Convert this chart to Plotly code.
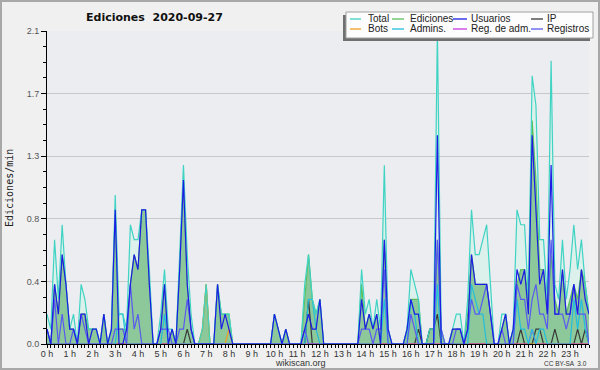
import plotly.graph_objects as go

# 10-minute bins, 144 per day; values in edits/min
hours = [f"{h} h" for h in range(24)]

total = [
    0.2, 0.1, 0.7, 0.3, 0.8, 0.4,   # 0h
    0.1, 0.2, 0.0, 0.4, 0.3, 0.1,   # 1h
    0.1, 0.1, 0.0, 0.2, 0.0, 0.1,   # 2h
    1.0, 0.2, 0.2, 0.1, 0.8, 0.7,   # 3h
    0.7, 0.9, 0.9, 0.5, 0.0, 0.0,   # 4h
    0.2, 0.5, 0.1, 0.1, 0.0, 0.6,   # 5h
    1.2, 0.6, 0.2, 0.0, 0.0, 0.1,   # 6h
    0.4, 0.0, 0.0, 0.4, 0.2, 0.2,   # 7h
    0.2, 0.0, 0.0, 0.0, 0.0, 0.0,   # 8h
    0.0, 0.0, 0.0, 0.0, 0.0, 0.0,   # 9h
    0.2, 0.1, 0.0, 0.1, 0.0, 0.0,   # 10h
    0.0, 0.0, 0.4, 0.6, 0.3, 0.2,   # 11h
    0.3, 0.0, 0.0, 0.0, 0.0, 0.0,   # 12h
    0.0, 0.0, 0.0, 0.0, 0.0, 0.5,   # 13h
    0.2, 0.3, 0.1, 0.3, 0.1, 1.2,   # 14h
    0.1, 0.0, 0.0, 0.0, 0.0, 0.1,   # 15h
    0.5, 0.4, 0.3, 0.0, 0.0, 0.1,   # 16h
    0.1, 2.1, 0.1, 0.0, 0.0, 0.1,   # 17h
    0.2, 0.2, 0.0, 0.3, 0.9, 0.6,   # 18h
    0.6, 0.7, 0.8, 0.4, 0.0, 0.0,   # 19h
    0.2, 0.2, 0.0, 0.1, 0.9, 0.8,   # 20h
    0.8, 0.3, 1.8, 1.6, 0.7, 0.7,   # 21h
    0.3, 1.9, 0.4, 0.3, 0.7, 0.3,   # 22h
    0.5, 0.8, 0.5, 0.7, 0.4, 0.2,   # 23h
]

ediciones = [
    0.1, 0.0, 0.4, 0.2, 0.6, 0.4,
    0.1, 0.1, 0.0, 0.2, 0.2, 0.1,
    0.1, 0.1, 0.0, 0.2, 0.0, 0.1,
    0.9, 0.1, 0.1, 0.1, 0.4, 0.6,
    0.5, 0.9, 0.9, 0.4, 0.0, 0.0,
    0.1, 0.4, 0.0, 0.1, 0.0, 0.5,
    1.1, 0.4, 0.1, 0.0, 0.0, 0.1,
    0.4, 0.0, 0.0, 0.4, 0.2, 0.2,
    0.2, 0.0, 0.0, 0.0, 0.0, 0.0,
    0.0, 0.0, 0.0, 0.0, 0.0, 0.0,
    0.2, 0.1, 0.0, 0.1, 0.0, 0.0,
    0.0, 0.0, 0.3, 0.6, 0.3, 0.2,
    0.3, 0.0, 0.0, 0.0, 0.0, 0.0,
    0.0, 0.0, 0.0, 0.0, 0.0, 0.4,
    0.1, 0.2, 0.1, 0.2, 0.0, 0.7,
    0.1, 0.0, 0.0, 0.0, 0.0, 0.1,
    0.3, 0.3, 0.3, 0.0, 0.0, 0.1,
    0.1, 0.7, 0.1, 0.0, 0.0, 0.1,
    0.1, 0.1, 0.0, 0.2, 0.6, 0.4,
    0.4, 0.4, 0.4, 0.2, 0.0, 0.0,
    0.1, 0.2, 0.0, 0.1, 0.4, 0.5,
    0.5, 0.3, 1.5, 1.1, 0.5, 0.5,
    0.2, 0.6, 0.3, 0.2, 0.5, 0.2,
    0.3, 0.4, 0.3, 0.5, 0.4, 0.2,
]

usuarios = [
    0.1, 0.0, 0.4, 0.2, 0.6, 0.4,
    0.1, 0.1, 0.0, 0.2, 0.2, 0.0,
    0.1, 0.1, 0.0, 0.2, 0.0, 0.1,
    0.9, 0.0, 0.0, 0.1, 0.4, 0.6,
    0.5, 0.9, 0.9, 0.4, 0.0, 0.0,
    0.1, 0.4, 0.0, 0.1, 0.0, 0.5,
    1.1, 0.4, 0.1, 0.0, 0.0, 0.0,
    0.0, 0.0, 0.0, 0.4, 0.1, 0.2,
    0.1, 0.0, 0.0, 0.0, 0.0, 0.0,
    0.0, 0.0, 0.0, 0.0, 0.0, 0.0,
    0.2, 0.1, 0.0, 0.1, 0.0, 0.0,
    0.0, 0.0, 0.1, 0.2, 0.1, 0.1,
    0.3, 0.0, 0.0, 0.0, 0.0, 0.0,
    0.0, 0.0, 0.0, 0.0, 0.0, 0.3,
    0.1, 0.2, 0.1, 0.2, 0.0, 0.7,
    0.1, 0.0, 0.0, 0.0, 0.0, 0.1,
    0.3, 0.2, 0.2, 0.0, 0.0, 0.0,
    0.0, 1.4, 0.0, 0.0, 0.0, 0.1,
    0.1, 0.1, 0.0, 0.1, 0.6, 0.4,
    0.4, 0.4, 0.4, 0.2, 0.0, 0.0,
    0.1, 0.2, 0.0, 0.1, 0.5, 0.4,
    0.5, 0.2, 1.4, 0.9, 0.4, 0.5,
    0.2, 1.2, 0.2, 0.2, 0.5, 0.2,
    0.2, 0.4, 0.2, 0.5, 0.3, 0.2,
]

registros = [
    0.1, 0.0, 0.3, 0.0, 0.2, 0.0,
    0.0, 0.1, 0.0, 0.2, 0.1, 0.0,
    0.0, 0.0, 0.0, 0.0, 0.0, 0.0,
    0.1, 0.1, 0.1, 0.0, 0.4, 0.1,
    0.2, 0.0, 0.0, 0.0, 0.0, 0.0,
    0.1, 0.1, 0.1, 0.0, 0.0, 0.1,
    0.1, 0.3, 0.1, 0.0, 0.0, 0.0,
    0.0, 0.0, 0.0, 0.0, 0.0, 0.0,
    0.0, 0.0, 0.0, 0.0, 0.0, 0.0,
    0.0, 0.0, 0.0, 0.0, 0.0, 0.0,
    0.0, 0.0, 0.0, 0.0, 0.0, 0.0,
    0.0, 0.0, 0.1, 0.0, 0.0, 0.0,
    0.0, 0.0, 0.0, 0.0, 0.0, 0.0,
    0.0, 0.0, 0.0, 0.0, 0.0, 0.1,
    0.1, 0.1, 0.0, 0.1, 0.1, 0.5,
    0.0, 0.0, 0.0, 0.0, 0.0, 0.0,
    0.2, 0.1, 0.0, 0.0, 0.0, 0.0,
    0.0, 0.7, 0.1, 0.0, 0.0, 0.0,
    0.1, 0.1, 0.0, 0.1, 0.3, 0.2,
    0.2, 0.3, 0.4, 0.2, 0.0, 0.0,
    0.1, 0.0, 0.0, 0.0, 0.4, 0.3,
    0.3, 0.1, 0.3, 0.4, 0.2, 0.2,
    0.1, 0.7, 0.2, 0.2, 0.2, 0.1,
    0.2, 0.4, 0.2, 0.2, 0.2, 0.0,
]

admins = [0.0] * 144
for i, v in [(19, 0.2), (20, 0.2), (31, 0.2), (69, 0.3), (70, 0.3), (71, 0.1),
             (89, 0.3), (96, 0.3), (97, 0.2), (103, 0.4), (112, 0.4), (113, 0.3),
             (114, 0.2), (115, 0.2), (124, 0.3), (125, 0.1), (126, 0.1), (128, 0.1),
             (130, 0.1), (131, 0.1), (139, 0.3), (140, 0.1), (141, 0.3), (142, 0.1)]:
    admins[i] = v

ip = [0.0] * 144
for i, v in [(37, 0.1), (69, 0.3), (98, 0.1), (101, 0.1), (102, 0.1), (103, 0.2),
             (125, 0.1), (129, 0.1), (130, 0.1), (134, 0.1), (140, 0.1), (142, 0.1)]:
    ip[i] = v

bots = [0.0] * 144
for i, v in [(41, 0.1), (42, 0.4), (48, 0.1)]:
    bots[i] = v

reg_adm = [0.0] * 144
reg_adm[128] = 0.1

x = list(range(144))

C_TOTAL = "#3fd3c3"
C_TOTAL_FILL = "#dcf1ec"
C_EDIC = "#5cbf5c"
C_EDIC_FILL = "#8cc89a"
C_USU = "#1c1ce6"
C_IP = "#3a3a3a"
C_BOTS = "#f0a020"
C_ADM = "#22bedd"
C_REGADM = "#c838e0"
C_REG = "#5a5af0"

fig = go.Figure()
fig.add_trace(go.Scatter(x=x, y=total, mode="lines", fill="tozeroy",
                         fillcolor=C_TOTAL_FILL, line=dict(width=0), showlegend=False))
fig.add_trace(go.Scatter(x=x, y=ediciones, mode="lines", fill="tozeroy",
                         fillcolor=C_EDIC_FILL, line=dict(color=C_EDIC, width=1.2), showlegend=False))
for ys, col in [(ip, C_IP), (bots, C_BOTS), (reg_adm, C_REGADM), (admins, C_ADM),
                (total, C_TOTAL), (registros, C_REG), (usuarios, C_USU)]:
    fig.add_trace(go.Scatter(x=x, y=ys, mode="lines", line=dict(color=col, width=1.2),
                             showlegend=False))

W, H = 600, 370
L, R, T, B = 47, 11, 31, 26
PW, PH = W - L - R, H - T - B

def px(xp):
    return (xp - L) / PW

def py(yp):
    return (H - B - yp) / PH

shapes = []
annotations = []

# outer border
shapes.append(dict(type="rect", xref="paper", yref="paper", x0=px(1), x1=px(599),
                   y0=py(369), y1=py(1), line=dict(color="#a8a8a8", width=2), layer="above"))

# legend box with shadow
shapes.append(dict(type="rect", xref="paper", yref="paper", x0=px(343), x1=px(590),
                   y0=py(41), y1=py(15), fillcolor="#707070", line=dict(width=0), layer="above"))
shapes.append(dict(type="rect", xref="paper", yref="paper", x0=px(346), x1=px(593),
                   y0=py(38), y1=py(12), fillcolor="#fdfdfd",
                   line=dict(color="#a0a0a0", width=1), layer="above"))

legend_items = [
    ("Total", C_TOTAL, 350, 361, 366, 19), ("Ediciones", C_EDIC, 392, 404, 408, 19),
    ("Usuarios", C_USU, 453, 467, 469, 19), ("IP", C_IP, 531, 543, 545, 19),
    ("Bots", C_BOTS, 350, 361, 366, 29), ("Admins.", C_ADM, 392, 404, 408, 29),
    ("Reg. de adm.", C_REGADM, 453, 467, 469, 29), ("Registros", C_REG, 531, 543, 545, 29),
]
for name, col, lx0, lx1, tx, ly in legend_items:
    shapes.append(dict(type="line", xref="paper", yref="paper", x0=px(lx0), x1=px(lx1),
                       y0=py(ly), y1=py(ly), line=dict(color=col, width=1.3), layer="above"))
    annotations.append(dict(text=name, xref="paper", yref="paper", x=px(tx), y=py(ly - 0.5),
                            xanchor="left", yanchor="middle", showarrow=False,
                            font=dict(family="Liberation Sans", size=10, color="#222")))

annotations += [
    dict(text="<b>Ediciones \u00a02020-09-27</b>", xref="paper", yref="paper", x=px(154), y=py(17),
         xanchor="center", yanchor="middle", showarrow=False,
         font=dict(family="DejaVu Sans", size=11, color="#111")),
    dict(text="Ediciones/min", xref="paper", yref="paper", x=px(9), y=py(188), textangle=-90,
         xanchor="center", yanchor="middle", showarrow=False,
         font=dict(family="DejaVu Sans Mono", size=10, color="#222")),
    dict(text="wikiscan.org", xref="paper", yref="paper", x=px(300), y=py(362.5),
         xanchor="center", yanchor="middle", showarrow=False,
         font=dict(family="Liberation Sans", size=9, color="#333")),
    dict(text="CC BY-SA  3.0", xref="paper", yref="paper", x=px(589), y=py(363),
         xanchor="right", yanchor="middle", showarrow=False,
         font=dict(family="Liberation Sans", size=6.5, color="#333")),
]

fig.update_layout(
    width=W, height=H,
    margin=dict(l=L, r=R, t=T, b=B, pad=0),
    paper_bgcolor="#f0f0f0", plot_bgcolor="#ecedf0",
    showlegend=False,
    shapes=shapes, annotations=annotations,
    xaxis=dict(range=[0, 143], tickmode="array", tickvals=[h * 6 for h in range(24)],
               ticktext=hours, ticks="outside", ticklen=3, tickcolor="black", tickwidth=1,
               ticklabelstandoff=-2,
               showline=True, linecolor="black", linewidth=1, showgrid=False, zeroline=False,
               tickfont=dict(family="Liberation Sans", size=9, color="#333"),
               minor=dict(tickmode="linear", tick0=0, dtick=1, ticks="outside", ticklen=3,
                          tickcolor="black", showgrid=False)),
    yaxis=dict(range=[0, 2.1], tickmode="array", tickvals=[0, 0.42, 0.84, 1.26, 1.68, 2.1],
               ticktext=["0.0", "0.4", "0.8", "1.3", "1.7", "2.1"], ticks="outside", ticklen=5,
               tickcolor="black", showline=True, linecolor="black", linewidth=1,
               showgrid=True, gridcolor="#c8c8c8", gridwidth=1, zeroline=False,
               tickfont=dict(family="Liberation Sans", size=9, color="#555"),
               minor=dict(tickmode="linear", tick0=0, dtick=0.105, ticks="outside", ticklen=3,
                          tickcolor="black", showgrid=False)),
)

fig.write_html("out.html", config={"displayModeBar": False},
               post_script="document.body.style.margin='0';document.body.style.overflow='hidden';")
